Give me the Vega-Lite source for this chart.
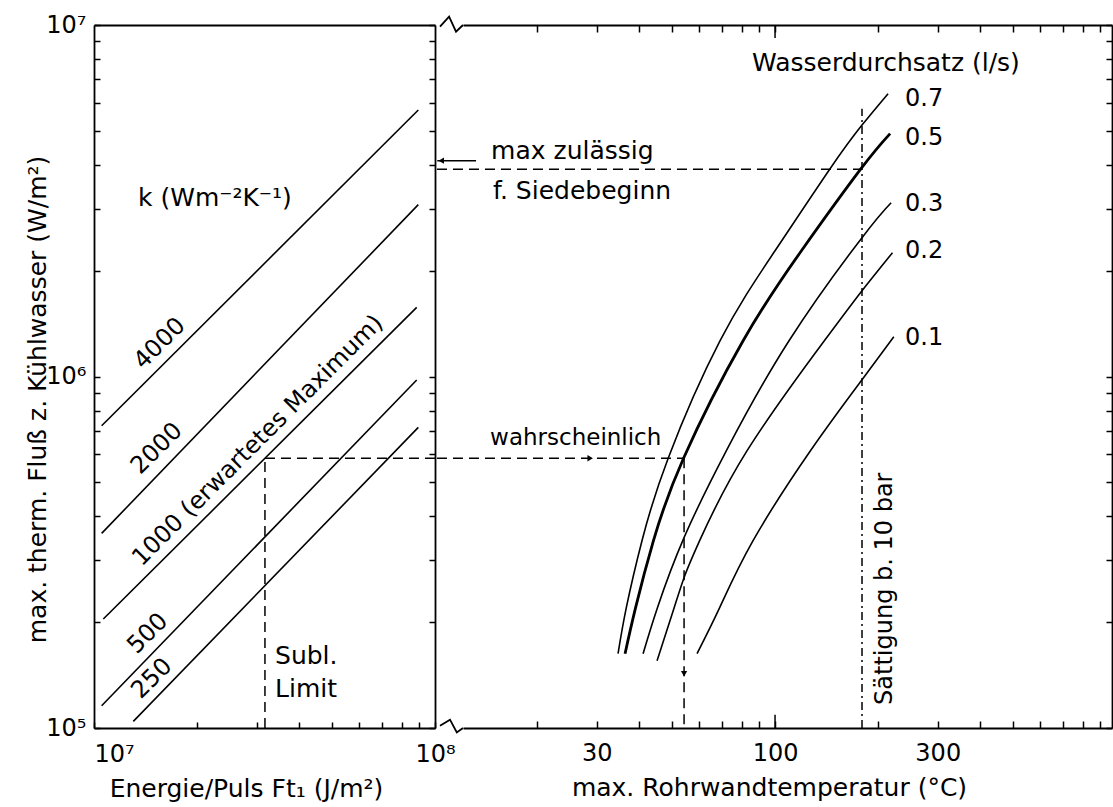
{
  "$schema": "https://vega.github.io/schema/vega-lite/v6.json",
  "background": "white",
  "padding": {"left": 25, "top": 13, "right": 0, "bottom": 4},
  "config": {
    "view": {"stroke": null},
    "font": "DejaVu Sans",
    "axis": {
      "domainColor": "black", "tickColor": "black", "labelColor": "black", "titleColor": "black",
      "labelFont": "DejaVu Sans", "titleFont": "DejaVu Sans", "labelFontSize": 24, "titleFontSize": 25,
      "titleFontWeight": "normal", "domainWidth": 1.8, "tickWidth": 1.5, "grid": false,
      "labelOverlap": false, "labelFlush": false
    }
  },
  "datasets": {
    "kLines": [
      {"k": 4000, "F1": 10530000, "q1": 724500, "F2": 89340000, "q2": 5731000},
      {"k": 2000, "F1": 10530000, "q1": 357900, "F2": 89340000, "q2": 3082000},
      {"k": 1000, "F1": 10650000, "q1": 204200, "F2": 88380000, "q2": 1573000},
      {"k": 500, "F1": 10530000, "q1": 115700, "F2": 88380000, "q2": 977300},
      {"k": 250, "F1": 13040000, "q1": 104400, "F2": 89340000, "q2": 716400}
    ],
    "kLabels": [
      {"label": "4000", "F": 15610000, "q": 1240000},
      {"label": "2000", "F": 15300000, "q": 623200},
      {"label": "1000 (erwartetes Maximum)", "F": 30270000, "q": 656800},
      {"label": "500", "F": 14400000, "q": 185500},
      {"label": "250", "F": 14800000, "q": 138100}
    ],
    "leftNotes": [
      {"label": "k (Wm⁻²K⁻¹)", "F": 13460000, "q": 3227000},
      {"label": "Subl.", "F": 33950000, "q": 160600},
      {"label": "Limit", "F": 33950000, "q": 129300}
    ],
    "leftDash": [
      {"F1": 31720000, "q1": 100000, "F2": 31720000, "q2": 585500},
      {"F1": 31720000, "q1": 585500, "F2": 100000000, "q2": 585500}
    ],
    "curves": [
      {"flow": 0.7, "T": 34.64, "q": 162700},
      {"flow": 0.7, "T": 36.63, "q": 219900},
      {"flow": 0.7, "T": 40.72, "q": 341100},
      {"flow": 0.7, "T": 48.6, "q": 585500},
      {"flow": 0.7, "T": 69.0, "q": 1264000},
      {"flow": 0.7, "T": 100.0, "q": 2279000},
      {"flow": 0.7, "T": 145.0, "q": 3901000},
      {"flow": 0.7, "T": 179.9, "q": 5190000},
      {"flow": 0.7, "T": 214.5, "q": 6376000},
      {"flow": 0.5, "T": 36.32, "q": 162700},
      {"flow": 0.5, "T": 39.0, "q": 219900},
      {"flow": 0.5, "T": 44.0, "q": 341100},
      {"flow": 0.5, "T": 53.91, "q": 585500},
      {"flow": 0.5, "T": 80.6, "q": 1264000},
      {"flow": 0.5, "T": 119.5, "q": 2279000},
      {"flow": 0.5, "T": 178.7, "q": 3901000},
      {"flow": 0.5, "T": 217.5, "q": 4908000},
      {"flow": 0.3, "T": 41.02, "q": 162700},
      {"flow": 0.3, "T": 45.2, "q": 219900},
      {"flow": 0.3, "T": 54.09, "q": 347900},
      {"flow": 0.3, "T": 72.0, "q": 615100},
      {"flow": 0.3, "T": 109.9, "q": 1264000},
      {"flow": 0.3, "T": 179.9, "q": 2483000},
      {"flow": 0.3, "T": 219.0, "q": 3120000},
      {"flow": 0.2, "T": 45.08, "q": 155400},
      {"flow": 0.2, "T": 50.6, "q": 219900},
      {"flow": 0.2, "T": 54.09, "q": 267700},
      {"flow": 0.2, "T": 60.1, "q": 341100},
      {"flow": 0.2, "T": 82.8, "q": 615100},
      {"flow": 0.2, "T": 139.5, "q": 1264000},
      {"flow": 0.2, "T": 179.9, "q": 1754000},
      {"flow": 0.2, "T": 221.0, "q": 2250000},
      {"flow": 0.1, "T": 59.06, "q": 162700},
      {"flow": 0.1, "T": 68.8, "q": 219900},
      {"flow": 0.1, "T": 86.2, "q": 341100},
      {"flow": 0.1, "T": 127.0, "q": 615100},
      {"flow": 0.1, "T": 179.9, "q": 979200},
      {"flow": 0.1, "T": 223.0, "q": 1298000}
    ],
    "rightDash": [
      {"T1": 10.2, "q1": 585500, "T2": 54.1, "q2": 585500},
      {"T1": 54.1, "q1": 585500, "T2": 54.1, "q2": 100000},
      {"T1": 10.2, "q1": 3890000, "T2": 179.9, "q2": 3890000}
    ],
    "satLine": [
      {"T1": 179.9, "q1": 100000, "T2": 179.9, "q2": 5780000}
    ],
    "solidSegs": [
      {"T1": 10.22, "q1": 4111000, "T2": 13.28, "q2": 4111000},
      {"T1": 100, "q1": 100000, "T2": 100, "q2": 109100},
      {"T1": 100, "q1": 10000000, "T2": 100, "q2": 9185000}
    ],
    "arrowsLeft": [{"T": 10.5, "q": 4111000}],
    "arrowsRight": [{"T": 28.7, "q": 585500}],
    "arrowsDown": [{"T": 54.1, "q": 142700}],
    "zigzag": [
      {"side": "bottom", "T": 10.41, "q": 101500},
      {"side": "bottom", "T": 11.14, "q": 105600},
      {"side": "bottom", "T": 11.66, "q": 97160},
      {"side": "bottom", "T": 12.16, "q": 100000},
      {"side": "top", "T": 10.41, "q": 9890000},
      {"side": "top", "T": 11.07, "q": 10560000},
      {"side": "top", "T": 11.6, "q": 9570000},
      {"side": "top", "T": 12.16, "q": 10000000}
    ],
    "rightNotes": [
      {"label": "Wasserdurchsatz (l/s)", "T": 85.6, "q": 7810000},
      {"label": "max zulässig", "T": 14.7, "q": 4390000},
      {"label": "f. Siedebeginn", "T": 14.89, "q": 3378000}
    ],
    "probNote": [
      {"label": "wahrscheinlich", "T": 14.6, "q": 669800}
    ],
    "flowLabels": [
      {"label": "0.7", "T": 240.5, "q": 6169000},
      {"label": "0.5", "T": 240.5, "q": 4779000},
      {"label": "0.3", "T": 240.5, "q": 3101000},
      {"label": "0.2", "T": 240.5, "q": 2279000},
      {"label": "0.1", "T": 240.5, "q": 1290000}
    ],
    "satText": [
      {"label": "Sättigung b. 10 bar", "T": 210.2, "q": 249000}
    ]
  },
  "resolve": {"scale": {"x": "independent", "y": "independent"}},
  "hconcat": [
    {
      "width": 341,
      "height": 703,
      "resolve": {"axis": {"x": "independent", "y": "independent"}},
      "layer": [
        {
          "data": {"name": "kLines"},
          "mark": {"type": "rule", "color": "black", "strokeWidth": 1.6},
          "encoding": {
            "x": {
              "field": "F1", "type": "quantitative",
              "scale": {"type": "log", "domain": [10000000, 100000000], "nice": false},
              "axis": {
                "orient": "bottom",
                "values": [10000000, 20000000, 30000000, 40000000, 50000000, 60000000, 70000000, 80000000, 90000000, 100000000],
                "tickSize": -6,
                "labelPadding": 20,
                "labelExpr": "datum.value == 10000000 ? '10⁷' : (datum.value == 100000000 ? '10⁸' : '')",
                "labelAlign": {"condition": {"test": "datum.value == 10000000", "value": "left"}, "value": "center"},
                "title": "Energie/Puls Ft₁ (J/m²)",
                "titleX": 152, "titleY": 68, "titleBaseline": "alphabetic", "titleAlign": "center"
              }
            },
            "x2": {"field": "F2"},
            "y": {
              "field": "q1", "type": "quantitative",
              "scale": {"type": "log", "domain": [100000, 10000000], "nice": false},
              "axis": {
                "orient": "left",
                "values": [100000, 200000, 300000, 400000, 500000, 600000, 700000, 800000, 900000, 1000000, 2000000, 3000000, 4000000, 5000000, 6000000, 7000000, 8000000, 9000000, 10000000],
                "tickSize": -6,
                "labelPadding": 14,
                "labelExpr": "datum.value == 100000 ? '10⁵' : (datum.value == 1000000 ? '10⁶' : (datum.value == 10000000 ? '10⁷' : ''))",
                "title": "max. therm. Fluß z. Kühlwasser (W/m²)",
                "titleX": -57, "titleY": 374, "titleAngle": -90, "titleBaseline": "middle", "titleAlign": "center"
              }
            },
            "y2": {"field": "q2"}
          }
        },
        {
          "data": {"name": "leftDash"},
          "mark": {"type": "rule", "color": "black", "strokeWidth": 1.5, "strokeDash": [10, 6]},
          "encoding": {
            "x": {"field": "F1", "type": "quantitative", "axis": {"orient": "top", "ticks": false, "labels": false, "title": null}},
            "x2": {"field": "F2"},
            "y": {
              "field": "q1", "type": "quantitative",
              "axis": {
                "orient": "right",
                "values": [100000, 200000, 300000, 400000, 500000, 600000, 700000, 800000, 900000, 1000000, 2000000, 3000000, 4000000, 5000000, 6000000, 7000000, 8000000, 9000000, 10000000],
                "tickSize": -6, "labels": false, "title": null
              }
            },
            "y2": {"field": "q2"}
          }
        },
        {
          "data": {"name": "kLabels"},
          "mark": {"type": "text", "angle": -45, "align": "center", "baseline": "middle", "fontSize": 24, "font": "DejaVu Sans", "color": "black"},
          "encoding": {
            "x": {"field": "F", "type": "quantitative", "axis": null},
            "y": {"field": "q", "type": "quantitative", "axis": null},
            "text": {"field": "label"}
          }
        },
        {
          "data": {"name": "leftNotes"},
          "mark": {"type": "text", "align": "left", "baseline": "middle", "fontSize": 25, "font": "DejaVu Sans", "color": "black"},
          "encoding": {
            "x": {"field": "F", "type": "quantitative", "axis": null},
            "y": {"field": "q", "type": "quantitative", "axis": null},
            "text": {"field": "label"}
          }
        }
      ]
    },
    {
      "width": 649,
      "height": 703,
      "resolve": {"axis": {"x": "independent", "y": "independent"}},
      "layer": [
        {
          "data": {"name": "curves"},
          "transform": [{"filter": "datum.flow != 0.5"}],
          "mark": {"type": "line", "color": "black", "strokeWidth": 1.6, "interpolate": "natural"},
          "encoding": {
            "x": {
              "field": "T", "type": "quantitative",
              "scale": {"type": "log", "domain": [12.16, 973], "nice": false},
              "axis": {
                "orient": "bottom",
                "values": [20, 30, 40, 50, 60, 70, 80, 90, 100, 200, 300, 400, 500, 600, 700, 800, 900],
                "tickSize": -7,
                "labelPadding": 20,
                "labelExpr": "datum.value == 30 ? '30' : (datum.value == 100 ? '100' : (datum.value == 300 ? '300' : ''))",
                "title": "max. Rohrwandtemperatur (°C)",
                "titleX": 306, "titleY": 67, "titleBaseline": "alphabetic", "titleAlign": "center"
              }
            },
            "y": {
              "field": "q", "type": "quantitative",
              "scale": {"type": "log", "domain": [100000, 10000000], "nice": false},
              "axis": {
                "orient": "right",
                "values": [100000, 200000, 300000, 400000, 500000, 600000, 700000, 800000, 900000, 1000000, 2000000, 3000000, 4000000, 5000000, 6000000, 7000000, 8000000, 9000000, 10000000],
                "tickSize": -6, "labels": false, "title": null
              }
            },
            "detail": {"field": "flow", "type": "nominal"}
          }
        },
        {
          "data": {"name": "curves"},
          "transform": [{"filter": "datum.flow == 0.5"}],
          "mark": {"type": "line", "color": "black", "strokeWidth": 2.8, "interpolate": "natural"},
          "encoding": {
            "x": {"field": "T", "type": "quantitative", "axis": null},
            "y": {"field": "q", "type": "quantitative", "axis": null},
            "detail": {"field": "flow", "type": "nominal"}
          }
        },
        {
          "data": {"name": "satLine"},
          "mark": {"type": "rule", "color": "black", "strokeWidth": 1.5, "strokeDash": [8, 4, 2, 4]},
          "encoding": {
            "x": {
              "field": "T1", "type": "quantitative",
              "axis": {
                "orient": "top",
                "values": [20, 30, 40, 50, 60, 70, 80, 90, 100, 200, 300, 400, 500, 600, 700, 800, 900],
                "tickSize": -7, "labels": false, "title": null
              }
            },
            "x2": {"field": "T2"},
            "y": {"field": "q1", "type": "quantitative", "axis": null},
            "y2": {"field": "q2"}
          }
        },
        {
          "data": {"name": "rightDash"},
          "mark": {"type": "rule", "color": "black", "strokeWidth": 1.5, "strokeDash": [10, 6]},
          "encoding": {
            "x": {"field": "T1", "type": "quantitative", "axis": null},
            "x2": {"field": "T2"},
            "y": {"field": "q1", "type": "quantitative", "axis": null},
            "y2": {"field": "q2"}
          }
        },
        {
          "data": {"name": "solidSegs"},
          "mark": {"type": "rule", "color": "black", "strokeWidth": 1.5},
          "encoding": {
            "x": {"field": "T1", "type": "quantitative", "axis": null},
            "x2": {"field": "T2"},
            "y": {"field": "q1", "type": "quantitative", "axis": null},
            "y2": {"field": "q2"}
          }
        },
        {
          "data": {"name": "zigzag"},
          "mark": {"type": "line", "color": "black", "strokeWidth": 1.8},
          "encoding": {
            "x": {"field": "T", "type": "quantitative", "axis": null},
            "y": {"field": "q", "type": "quantitative", "axis": null},
            "detail": {"field": "side", "type": "nominal"}
          }
        },
        {
          "data": {"name": "arrowsLeft"},
          "mark": {"type": "point", "shape": "triangle-left", "filled": true, "color": "black", "size": 40, "opacity": 1},
          "encoding": {
            "x": {"field": "T", "type": "quantitative", "axis": null},
            "y": {"field": "q", "type": "quantitative", "axis": null}
          }
        },
        {
          "data": {"name": "arrowsRight"},
          "mark": {"type": "point", "shape": "triangle-right", "filled": true, "color": "black", "size": 40, "opacity": 1},
          "encoding": {
            "x": {"field": "T", "type": "quantitative", "axis": null},
            "y": {"field": "q", "type": "quantitative", "axis": null}
          }
        },
        {
          "data": {"name": "arrowsDown"},
          "mark": {"type": "point", "shape": "triangle-down", "filled": true, "color": "black", "size": 40, "opacity": 1},
          "encoding": {
            "x": {"field": "T", "type": "quantitative", "axis": null},
            "y": {"field": "q", "type": "quantitative", "axis": null}
          }
        },
        {
          "data": {"name": "rightNotes"},
          "mark": {"type": "text", "align": "left", "baseline": "middle", "fontSize": 25, "font": "DejaVu Sans", "color": "black"},
          "encoding": {
            "x": {"field": "T", "type": "quantitative", "axis": null},
            "y": {"field": "q", "type": "quantitative", "axis": null},
            "text": {"field": "label"}
          }
        },
        {
          "data": {"name": "probNote"},
          "mark": {"type": "text", "align": "left", "baseline": "middle", "fontSize": 23, "font": "DejaVu Sans", "color": "black"},
          "encoding": {
            "x": {"field": "T", "type": "quantitative", "axis": null},
            "y": {"field": "q", "type": "quantitative", "axis": null},
            "text": {"field": "label"}
          }
        },
        {
          "data": {"name": "flowLabels"},
          "mark": {"type": "text", "align": "left", "baseline": "middle", "fontSize": 24, "font": "DejaVu Sans", "color": "black"},
          "encoding": {
            "x": {"field": "T", "type": "quantitative", "axis": null},
            "y": {"field": "q", "type": "quantitative", "axis": null},
            "text": {"field": "label"}
          }
        },
        {
          "data": {"name": "satText"},
          "mark": {"type": "text", "angle": -90, "align": "center", "baseline": "middle", "fontSize": 24, "font": "DejaVu Sans", "color": "black"},
          "encoding": {
            "x": {"field": "T", "type": "quantitative", "axis": null},
            "y": {"field": "q", "type": "quantitative", "axis": null},
            "text": {"field": "label"}
          }
        }
      ]
    }
  ],
  "spacing": 28,
  "bounds": "flush"
}
